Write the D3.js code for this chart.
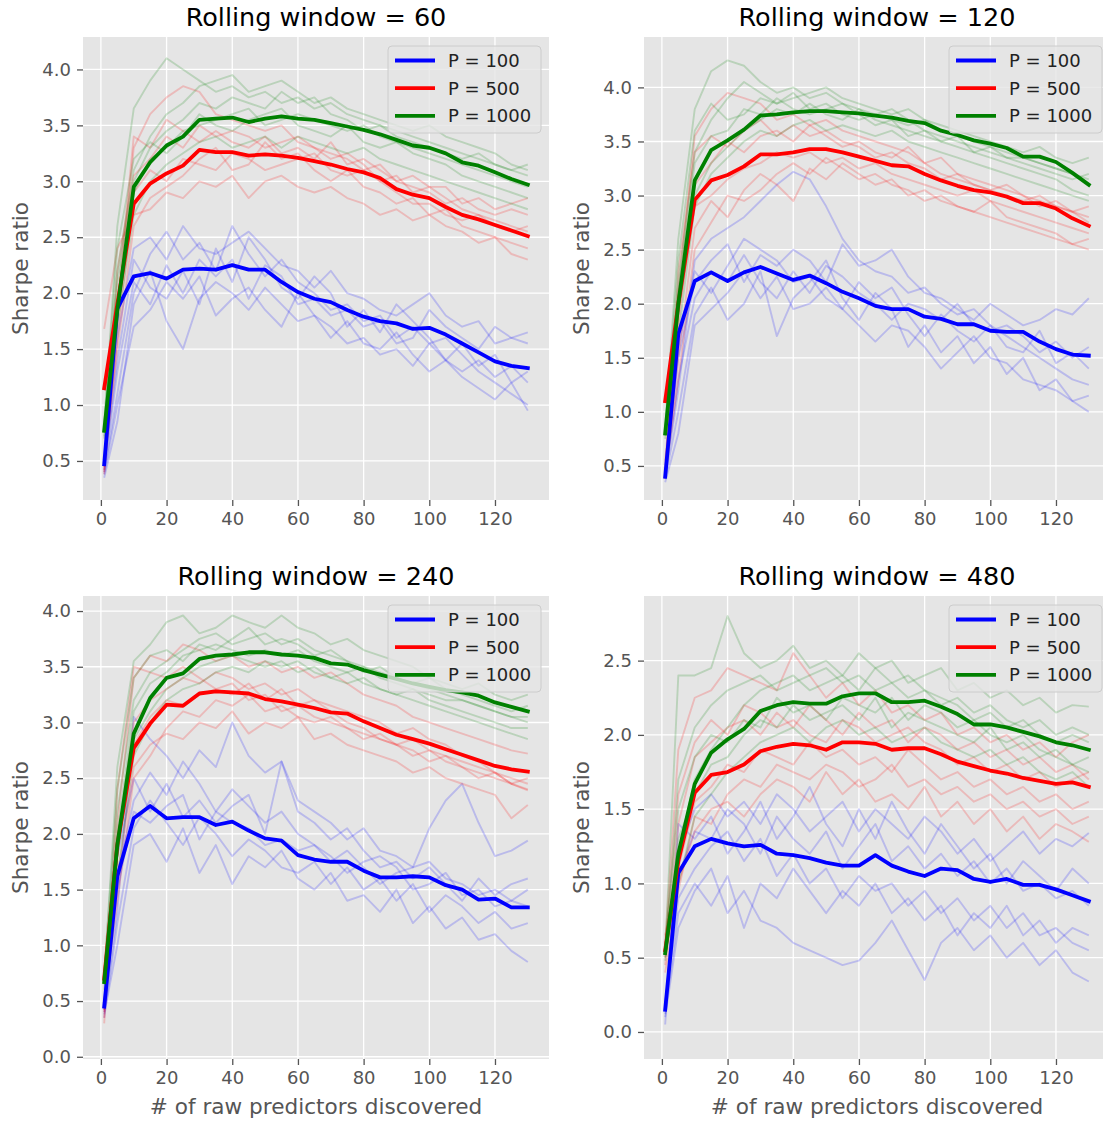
<!DOCTYPE html>
<html>
<head>
<meta charset="utf-8">
<script src="https://cdn.jsdelivr.net/npm/d3@7/dist/d3.min.js"></script>
<style>
  body { margin: 0; background: #fff; }
  svg { display: block; font-family: "DejaVu Sans", sans-serif; }
</style>
</head>
<body>
<svg id="chart" width="1103" height="1121"></svg>
<script>
const predictors = [1, 5, 10, 15, 20, 25, 30, 35, 40, 45, 50, 55, 60, 65, 70, 75, 80, 85, 90, 95, 100, 105, 110, 115, 120, 125, 130];
const windows = [60, 120, 240, 480];
const portfolioSizes = [100, 500, 1000];
const seriesColors = ['#0000ff', '#ff0000', '#008000'];

// mean Sharpe ratio, one array per rolling window and P
const w60P100 = [0.47, 1.86, 2.15, 2.18, 2.13, 2.21, 2.22, 2.21, 2.25, 2.21, 2.21, 2.10, 2.01, 1.95, 1.92, 1.85, 1.79, 1.75, 1.73, 1.68, 1.69, 1.63, 1.55, 1.47, 1.39, 1.35, 1.33];
const w60P500 = [1.15, 1.90, 2.80, 2.98, 3.07, 3.14, 3.28, 3.26, 3.26, 3.23, 3.24, 3.23, 3.21, 3.18, 3.15, 3.11, 3.08, 3.03, 2.93, 2.88, 2.85, 2.77, 2.70, 2.66, 2.61, 2.56, 2.51];
const w60P1000 = [0.77, 1.85, 2.95, 3.17, 3.32, 3.40, 3.55, 3.56, 3.57, 3.53, 3.56, 3.58, 3.56, 3.55, 3.52, 3.49, 3.46, 3.42, 3.37, 3.32, 3.30, 3.25, 3.17, 3.14, 3.08, 3.02, 2.97];

const w120P100 = [0.40, 1.72, 2.21, 2.29, 2.21, 2.29, 2.34, 2.28, 2.22, 2.26, 2.19, 2.11, 2.05, 1.98, 1.95, 1.95, 1.88, 1.86, 1.81, 1.81, 1.75, 1.74, 1.74, 1.65, 1.58, 1.53, 1.52];
const w120P500 = [1.10, 2.00, 2.96, 3.14, 3.19, 3.27, 3.38, 3.38, 3.40, 3.43, 3.43, 3.40, 3.36, 3.32, 3.28, 3.27, 3.20, 3.14, 3.09, 3.05, 3.03, 2.99, 2.93, 2.93, 2.88, 2.79, 2.72];
const w120P1000 = [0.80, 2.00, 3.14, 3.42, 3.51, 3.61, 3.74, 3.75, 3.77, 3.78, 3.78, 3.77, 3.76, 3.74, 3.72, 3.69, 3.67, 3.60, 3.56, 3.51, 3.48, 3.44, 3.36, 3.36, 3.31, 3.21, 3.10];

const w240P100 = [0.45, 1.62, 2.14, 2.25, 2.14, 2.15, 2.15, 2.08, 2.11, 2.03, 1.96, 1.94, 1.81, 1.77, 1.75, 1.75, 1.67, 1.61, 1.61, 1.62, 1.61, 1.54, 1.50, 1.41, 1.42, 1.34, 1.34];
const w240P500 = [0.70, 1.90, 2.77, 2.99, 3.16, 3.15, 3.26, 3.28, 3.27, 3.26, 3.21, 3.19, 3.16, 3.13, 3.09, 3.08, 3.01, 2.95, 2.89, 2.85, 2.81, 2.76, 2.71, 2.66, 2.61, 2.58, 2.56];
const w240P1000 = [0.67, 1.90, 2.90, 3.22, 3.40, 3.44, 3.57, 3.60, 3.61, 3.63, 3.63, 3.61, 3.60, 3.58, 3.53, 3.52, 3.47, 3.43, 3.39, 3.35, 3.32, 3.29, 3.27, 3.24, 3.18, 3.14, 3.10];

const w480P100 = [0.15, 1.07, 1.25, 1.30, 1.27, 1.25, 1.26, 1.20, 1.19, 1.17, 1.14, 1.12, 1.12, 1.19, 1.12, 1.08, 1.05, 1.10, 1.09, 1.03, 1.01, 1.03, 0.99, 0.99, 0.96, 0.92, 0.88];
const w480P500 = [0.55, 1.15, 1.61, 1.73, 1.75, 1.80, 1.89, 1.92, 1.94, 1.93, 1.90, 1.95, 1.95, 1.94, 1.90, 1.91, 1.91, 1.87, 1.82, 1.79, 1.76, 1.74, 1.71, 1.69, 1.67, 1.68, 1.65];
const w480P1000 = [0.53, 1.20, 1.67, 1.88, 1.97, 2.04, 2.16, 2.20, 2.22, 2.21, 2.21, 2.26, 2.28, 2.28, 2.22, 2.22, 2.23, 2.19, 2.14, 2.07, 2.07, 2.05, 2.02, 1.99, 1.95, 1.93, 1.90];

// individual runs (faint lines)
const w60P100Runs = [
  [0.40, 1.10, 2.00, 2.35, 2.55, 2.30, 2.45, 2.20, 2.60, 2.35, 2.15, 2.30, 2.10, 2.00, 1.85, 1.90, 1.75, 1.80, 1.60, 1.70, 1.55, 1.60, 1.45, 1.30, 1.20, 1.10, 1.00],
  [0.45, 1.40, 2.30, 2.05, 1.95, 2.20, 1.90, 2.40, 2.10, 2.50, 2.30, 2.05, 1.95, 2.15, 2.00, 1.70, 1.85, 1.65, 1.90, 1.75, 1.60, 1.40, 1.55, 1.35, 1.45, 1.20, 1.30],
  [0.35, 0.85, 1.90, 2.20, 1.75, 1.50, 1.95, 2.10, 2.00, 1.85, 2.05, 1.90, 1.75, 1.80, 1.60, 1.75, 1.55, 1.50, 1.65, 1.45, 1.30, 1.40, 1.25, 1.15, 1.05, 1.20, 0.95],
  [0.50, 1.60, 2.40, 2.50, 2.30, 2.60, 2.40, 2.35, 2.45, 2.55, 2.40, 2.25, 2.20, 2.05, 2.20, 2.00, 1.95, 1.85, 1.80, 1.90, 2.00, 1.80, 1.70, 1.75, 1.55, 1.60, 1.55],
  [0.38, 1.00, 1.70, 1.85, 2.10, 1.95, 2.15, 1.80, 1.95, 2.05, 1.85, 1.70, 2.00, 1.80, 1.70, 1.55, 1.60, 1.45, 1.50, 1.35, 1.55, 1.40, 1.30, 1.40, 1.25, 1.35, 1.20],
  [0.42, 1.30, 2.10, 1.90, 2.25, 2.00, 2.30, 2.15, 2.30, 1.95, 2.25, 2.15, 1.90, 1.95, 1.80, 1.85, 1.70, 1.75, 1.55, 1.60, 1.85, 1.70, 1.60, 1.50, 1.70, 1.60, 1.65]
];
const w60P500Runs = [
  [0.40, 1.80, 3.30, 3.60, 3.75, 3.85, 3.80, 3.60, 3.55, 3.50, 3.45, 3.50, 3.35, 3.30, 3.20, 3.25, 3.15, 3.00, 3.05, 2.90, 2.95, 2.85, 2.75, 2.70, 2.65, 2.60, 2.55],
  [0.45, 1.50, 2.60, 2.85, 2.95, 3.05, 3.20, 3.30, 3.10, 3.15, 3.35, 3.20, 3.25, 3.10, 3.00, 3.10, 2.95, 2.90, 2.80, 2.85, 2.70, 2.75, 2.60, 2.55, 2.50, 2.45, 2.40],
  [0.50, 2.20, 3.05, 3.20, 3.40, 3.30, 3.50, 3.40, 3.45, 3.40, 3.30, 3.35, 3.40, 3.30, 3.25, 3.20, 3.10, 3.15, 3.00, 2.95, 2.90, 2.80, 2.85, 2.75, 2.70, 2.75, 2.70],
  [1.68, 2.40, 2.70, 2.75, 2.90, 2.85, 3.00, 2.95, 3.05, 2.85, 3.00, 3.05, 2.95, 2.90, 2.95, 2.85, 2.80, 2.70, 2.75, 2.65, 2.70, 2.60, 2.55, 2.45, 2.50, 2.35, 2.30],
  [0.42, 1.60, 2.90, 3.10, 3.00, 3.20, 3.15, 3.10, 3.25, 3.20, 3.10, 3.15, 3.20, 3.25, 3.10, 3.05, 3.10, 3.00, 2.90, 2.80, 2.80, 2.70, 2.65, 2.70, 2.60, 2.55, 2.60],
  [0.38, 1.90, 3.40, 3.30, 3.55, 3.45, 3.35, 3.45, 3.35, 3.30, 3.40, 3.25, 3.30, 3.20, 3.35, 3.15, 3.20, 3.10, 3.00, 3.05, 2.95, 2.95, 2.80, 2.85, 2.75, 2.80, 2.85]
];
const w60P1000Runs = [
  [0.80, 2.60, 3.65, 3.90, 4.10, 4.00, 3.90, 3.80, 3.85, 3.75, 3.80, 3.70, 3.75, 3.65, 3.70, 3.60, 3.55, 3.50, 3.45, 3.40, 3.35, 3.30, 3.25, 3.20, 3.15, 3.10, 3.05],
  [0.75, 2.20, 3.10, 3.40, 3.60, 3.70, 3.85, 3.90, 3.95, 3.80, 3.85, 3.90, 3.80, 3.70, 3.75, 3.65, 3.60, 3.55, 3.50, 3.45, 3.50, 3.40, 3.35, 3.30, 3.25, 3.15, 3.10],
  [0.70, 1.90, 2.90, 3.20, 3.30, 3.45, 3.50, 3.55, 3.60, 3.65, 3.50, 3.55, 3.60, 3.55, 3.50, 3.45, 3.50, 3.40, 3.35, 3.30, 3.25, 3.20, 3.15, 3.10, 3.05, 3.00, 2.95],
  [0.85, 2.40, 3.20, 3.35, 3.25, 3.40, 3.60, 3.50, 3.45, 3.55, 3.60, 3.65, 3.50, 3.45, 3.40, 3.50, 3.35, 3.30, 3.35, 3.25, 3.20, 3.15, 3.05, 3.00, 2.95, 2.90, 2.85],
  [0.72, 1.70, 2.70, 3.00, 3.15, 3.25, 3.35, 3.40, 3.30, 3.35, 3.40, 3.30, 3.40, 3.35, 3.30, 3.25, 3.30, 3.20, 3.15, 3.10, 3.05, 3.00, 2.95, 2.90, 2.85, 2.80, 2.75],
  [0.78, 2.10, 3.00, 3.30, 3.45, 3.55, 3.70, 3.65, 3.75, 3.70, 3.65, 3.80, 3.70, 3.75, 3.60, 3.55, 3.45, 3.50, 3.40, 3.35, 3.30, 3.25, 3.20, 3.25, 3.15, 3.10, 3.15]
];

const w120P100Runs = [
  [0.40, 1.20, 2.40, 2.60, 2.70, 2.80, 2.95, 3.10, 3.22, 3.15, 2.90, 2.60, 2.40, 2.30, 2.25, 2.10, 2.15, 2.00, 1.90, 1.95, 1.80, 1.70, 1.60, 1.50, 1.40, 1.30, 1.25],
  [0.38, 1.00, 1.90, 2.15, 1.85, 2.00, 2.30, 1.70, 2.05, 2.20, 2.40, 2.05, 1.85, 2.10, 1.95, 1.60, 1.80, 1.55, 1.70, 1.45, 1.60, 1.35, 1.50, 1.20, 1.30, 1.10, 1.00],
  [0.45, 1.50, 2.20, 2.40, 2.55, 2.20, 2.45, 2.35, 2.50, 2.40, 2.20, 2.55, 2.35, 2.40, 2.50, 2.25, 2.10, 2.05, 1.95, 1.85, 2.00, 1.90, 1.80, 1.85, 1.95, 1.90, 2.05],
  [0.35, 0.80, 1.80, 1.95, 2.10, 2.30, 2.05, 2.25, 1.95, 2.00, 2.15, 1.95, 1.80, 1.65, 1.80, 1.75, 1.60, 1.40, 1.55, 1.70, 1.50, 1.45, 1.30, 1.25, 1.20, 1.10, 1.15],
  [0.42, 1.30, 2.05, 2.30, 2.20, 2.45, 2.20, 2.05, 2.30, 2.10, 2.35, 2.25, 2.10, 2.00, 1.85, 2.00, 1.95, 1.85, 2.00, 1.80, 1.75, 1.80, 1.70, 1.55, 1.65, 1.50, 1.60],
  [0.40, 1.60, 2.30, 2.10, 2.35, 2.60, 2.50, 2.40, 2.20, 2.25, 2.05, 1.95, 2.20, 2.05, 2.15, 1.90, 1.70, 1.90, 1.75, 1.65, 1.80, 1.60, 1.55, 1.75, 1.45, 1.55, 1.40]
];
const w120P500Runs = [
  [0.45, 2.10, 3.55, 3.80, 3.95, 3.90, 3.85, 3.70, 3.75, 3.65, 3.70, 3.60, 3.55, 3.50, 3.45, 3.40, 3.30, 3.35, 3.20, 3.15, 3.10, 3.05, 3.00, 2.95, 2.90, 2.85, 2.80],
  [0.40, 1.50, 2.70, 2.95, 2.80, 3.05, 3.20, 3.10, 2.95, 3.25, 3.15, 3.30, 3.20, 3.10, 3.15, 3.00, 3.05, 2.95, 2.90, 2.85, 2.80, 2.75, 2.70, 2.65, 2.60, 2.55, 2.50],
  [0.50, 1.80, 3.10, 3.30, 3.50, 3.40, 3.55, 3.60, 3.50, 3.65, 3.55, 3.45, 3.50, 3.40, 3.35, 3.45, 3.30, 3.20, 3.15, 3.10, 3.05, 3.00, 2.95, 3.00, 2.90, 2.85, 2.75],
  [0.42, 1.30, 2.50, 2.75, 3.00, 2.95, 3.05, 3.20, 3.30, 3.20, 3.35, 3.25, 3.15, 3.20, 3.10, 3.05, 2.95, 3.00, 2.90, 2.85, 2.95, 2.80, 2.75, 2.70, 2.65, 2.55, 2.60],
  [0.38, 2.30, 3.40, 3.55, 3.45, 3.60, 3.70, 3.55, 3.65, 3.55, 3.60, 3.50, 3.45, 3.35, 3.40, 3.30, 3.25, 3.15, 3.20, 3.10, 3.05, 3.10, 3.00, 2.90, 2.95, 2.85, 2.90],
  [0.55, 1.90, 2.90, 3.00, 3.15, 3.25, 3.30, 3.40, 3.35, 3.40, 3.30, 3.35, 3.25, 3.30, 3.20, 3.15, 3.10, 3.05, 3.00, 3.05, 2.95, 2.90, 2.85, 2.80, 2.75, 2.70, 2.65]
];
const w120P1000Runs = [
  [0.85, 2.60, 3.80, 4.15, 4.25, 4.20, 4.05, 3.95, 4.00, 3.90, 3.95, 3.85, 3.80, 3.75, 3.80, 3.70, 3.60, 3.55, 3.50, 3.45, 3.40, 3.35, 3.35, 3.30, 3.25, 3.20, 3.15],
  [0.80, 2.20, 3.40, 3.70, 3.90, 4.05, 3.95, 3.85, 3.90, 3.95, 4.00, 3.90, 3.85, 3.80, 3.75, 3.80, 3.70, 3.65, 3.60, 3.55, 3.50, 3.45, 3.40, 3.45, 3.35, 3.30, 3.35],
  [0.75, 1.90, 3.00, 3.30, 3.45, 3.60, 3.70, 3.80, 3.75, 3.85, 3.75, 3.70, 3.80, 3.70, 3.65, 3.60, 3.55, 3.50, 3.45, 3.40, 3.35, 3.30, 3.25, 3.20, 3.15, 3.05, 3.00],
  [0.82, 2.40, 3.60, 3.85, 3.70, 3.75, 3.90, 3.85, 3.95, 3.80, 3.85, 3.75, 3.70, 3.75, 3.70, 3.65, 3.70, 3.60, 3.55, 3.50, 3.45, 3.40, 3.35, 3.30, 3.25, 3.20, 3.10],
  [0.78, 1.70, 2.90, 3.20, 3.35, 3.50, 3.60, 3.55, 3.65, 3.70, 3.60, 3.65, 3.60, 3.55, 3.60, 3.50, 3.45, 3.40, 3.35, 3.30, 3.25, 3.20, 3.15, 3.10, 3.05, 3.00, 2.95],
  [0.80, 2.10, 3.30, 3.55, 3.60, 3.80, 3.75, 3.90, 3.80, 3.75, 3.80, 3.85, 3.75, 3.65, 3.70, 3.55, 3.60, 3.50, 3.55, 3.40, 3.45, 3.35, 3.30, 3.25, 3.20, 3.15, 3.20]
];

const w240P100Runs = [
  [0.40, 1.30, 3.05, 2.85, 2.70, 2.50, 2.75, 2.60, 3.00, 2.70, 2.55, 2.65, 2.30, 2.20, 2.10, 1.95, 2.05, 1.85, 1.80, 1.70, 1.75, 1.60, 1.55, 1.45, 1.50, 1.40, 1.35],
  [0.45, 1.60, 2.30, 2.55, 2.35, 2.65, 2.45, 2.20, 2.40, 2.25, 2.10, 2.20, 2.00, 1.90, 1.75, 1.85, 1.70, 1.55, 1.65, 1.70, 2.05, 2.30, 2.45, 2.10, 1.80, 1.85, 1.94],
  [0.38, 1.00, 1.90, 2.00, 1.75, 2.05, 1.65, 1.90, 1.55, 1.80, 1.70, 1.85, 1.60, 1.50, 1.65, 1.40, 1.45, 1.30, 1.50, 1.20, 1.35, 1.15, 1.25, 1.05, 1.10, 0.95, 0.85],
  [0.50, 1.80, 2.50, 2.20, 2.45, 2.15, 2.30, 2.10, 2.25, 2.35, 2.00, 2.65, 2.20, 2.10, 1.95, 2.05, 1.85, 1.70, 1.75, 1.60, 1.70, 1.55, 1.40, 1.60, 1.45, 1.55, 1.60],
  [0.35, 1.20, 2.05, 2.30, 2.10, 1.90, 2.15, 2.00, 1.80, 1.95, 1.85, 1.70, 1.65, 1.75, 1.55, 1.70, 1.50, 1.60, 1.40, 1.55, 1.30, 1.45, 1.35, 1.20, 1.30, 1.15, 1.20],
  [0.42, 1.50, 2.20, 2.10, 2.25, 2.35, 1.95, 2.20, 2.10, 2.05, 1.90, 1.95, 1.85, 1.90, 1.80, 1.65, 1.75, 1.80, 1.70, 1.50, 1.55, 1.65, 1.45, 1.50, 1.35, 1.40, 1.50]
];
const w240P500Runs = [
  [0.30, 2.10, 3.40, 3.60, 3.55, 3.70, 3.65, 3.55, 3.60, 3.50, 3.55, 3.45, 3.50, 3.40, 3.45, 3.35, 3.25, 3.20, 3.15, 3.05, 3.00, 2.95, 2.90, 2.85, 2.80, 2.75, 2.72],
  [0.40, 1.60, 2.60, 2.80, 2.90, 2.85, 3.00, 2.95, 3.10, 2.90, 3.00, 2.95, 3.05, 2.85, 2.90, 2.80, 2.75, 2.70, 2.65, 2.55, 2.60, 2.50, 2.45, 2.40, 2.35, 2.14, 2.26],
  [0.45, 1.90, 3.00, 3.20, 3.30, 3.40, 3.35, 3.45, 3.40, 3.30, 3.35, 3.25, 3.30, 3.20, 3.15, 3.10, 3.05, 3.00, 2.90, 2.95, 2.85, 2.80, 2.70, 2.65, 2.55, 2.45, 2.39],
  [0.35, 2.40, 3.50, 3.45, 3.40, 3.50, 3.40, 3.30, 3.25, 3.35, 3.20, 3.30, 3.15, 3.20, 3.10, 3.00, 2.95, 2.85, 2.80, 2.75, 2.65, 2.70, 2.60, 2.55, 2.50, 2.45, 2.40],
  [0.50, 1.40, 2.50, 2.70, 2.95, 3.10, 3.05, 3.20, 3.15, 3.25, 3.10, 3.15, 3.05, 3.00, 3.05, 2.95, 2.90, 2.85, 2.80, 2.85, 2.75, 2.70, 2.65, 2.60, 2.55, 2.50, 2.45],
  [0.42, 1.80, 2.80, 3.05, 3.20, 3.15, 3.25, 3.30, 3.35, 3.20, 3.25, 3.10, 3.15, 3.05, 3.00, 2.95, 2.85, 2.90, 2.80, 2.70, 2.75, 2.65, 2.60, 2.50, 2.55, 2.45, 2.50]
];
const w240P1000Runs = [
  [0.70, 2.60, 3.55, 3.70, 3.90, 3.96, 3.80, 3.85, 3.96, 3.90, 3.85, 3.96, 3.85, 3.80, 3.70, 3.75, 3.65, 3.60, 3.55, 3.50, 3.40, 3.35, 3.30, 3.35, 3.25, 3.20, 3.25],
  [0.65, 2.20, 3.20, 3.45, 3.55, 3.65, 3.75, 3.80, 3.70, 3.75, 3.80, 3.70, 3.75, 3.65, 3.60, 3.55, 3.50, 3.45, 3.40, 3.35, 3.30, 3.25, 3.20, 3.15, 3.10, 3.05, 3.00],
  [0.60, 1.80, 2.85, 3.10, 3.30, 3.40, 3.50, 3.55, 3.60, 3.55, 3.50, 3.55, 3.45, 3.50, 3.40, 3.35, 3.40, 3.30, 3.25, 3.20, 3.15, 3.10, 3.05, 3.00, 2.95, 2.90, 2.85],
  [0.75, 2.40, 3.40, 3.60, 3.65, 3.55, 3.70, 3.65, 3.75, 3.85, 3.70, 3.75, 3.70, 3.60, 3.65, 3.55, 3.45, 3.50, 3.40, 3.35, 3.40, 3.30, 3.25, 3.20, 3.15, 3.10, 3.15],
  [0.68, 1.60, 2.70, 3.00, 3.20, 3.30, 3.35, 3.45, 3.50, 3.45, 3.55, 3.50, 3.55, 3.45, 3.40, 3.45, 3.35, 3.30, 3.25, 3.30, 3.20, 3.15, 3.10, 3.05, 3.00, 2.95, 2.95],
  [0.72, 2.00, 3.10, 3.35, 3.45, 3.60, 3.65, 3.70, 3.65, 3.60, 3.65, 3.60, 3.65, 3.55, 3.50, 3.45, 3.50, 3.40, 3.35, 3.30, 3.25, 3.20, 3.20, 3.15, 3.10, 3.05, 3.05]
];

const w480P100Runs = [
  [0.10, 0.70, 0.95, 1.10, 0.80, 0.95, 0.75, 0.70, 0.60, 0.55, 0.50, 0.45, 0.48, 0.60, 0.75, 0.55, 0.35, 0.60, 0.70, 0.55, 0.65, 0.50, 0.60, 0.45, 0.55, 0.40, 0.34],
  [0.15, 1.20, 1.50, 1.60, 1.45, 1.55, 1.40, 1.60, 1.50, 1.35, 1.45, 1.55, 1.35, 1.50, 1.40, 1.30, 1.45, 1.35, 1.20, 1.30, 1.15, 1.25, 1.35, 1.20, 1.30, 1.25, 1.34],
  [0.20, 0.90, 1.10, 1.25, 1.35, 1.15, 1.30, 1.05, 1.20, 1.00, 1.10, 0.90, 1.05, 0.95, 1.00, 0.85, 0.95, 0.80, 0.90, 0.75, 0.85, 0.70, 0.80, 0.65, 0.70, 0.60, 0.55],
  [0.05, 1.40, 1.30, 1.45, 1.20, 1.35, 1.55, 1.30, 1.45, 1.65, 1.40, 1.25, 1.50, 1.30, 1.55, 1.35, 1.20, 1.40, 1.25, 1.10, 1.20, 1.00, 1.15, 1.05, 0.95, 1.10, 1.00],
  [0.12, 0.80, 1.00, 0.85, 1.05, 0.70, 1.00, 0.90, 1.10, 0.95, 0.80, 0.95, 0.85, 1.00, 0.80, 0.90, 0.75, 0.85, 0.65, 0.80, 0.70, 0.85, 0.65, 0.75, 0.60, 0.70, 0.65],
  [0.18, 1.05, 1.35, 1.30, 1.50, 1.40, 1.20, 1.45, 1.30, 1.20, 1.35, 1.10, 1.25, 1.40, 1.15, 1.25, 1.10, 1.20, 1.05, 1.15, 1.00, 1.10, 0.95, 1.00, 0.90, 0.95, 0.85]
];
const w480P500Runs = [
  [0.60, 1.90, 2.25, 2.30, 2.45, 2.40, 2.35, 2.30, 2.55, 2.40, 2.25, 2.35, 2.20, 2.30, 2.15, 2.20, 2.10, 2.15, 2.00, 2.05, 1.95, 2.00, 1.90, 1.95, 1.85, 1.95, 2.00],
  [0.50, 1.00, 1.35, 1.50, 1.55, 1.45, 1.60, 1.70, 1.65, 1.55, 1.75, 1.60, 1.70, 1.55, 1.60, 1.50, 1.65, 1.45, 1.55, 1.40, 1.50, 1.35, 1.45, 1.30, 1.40, 1.35, 1.28],
  [0.45, 1.40, 1.85, 1.95, 2.05, 2.10, 2.00, 2.15, 2.05, 2.20, 2.10, 2.00, 2.15, 2.05, 2.10, 1.95, 2.05, 2.00, 1.90, 1.95, 1.85, 1.90, 1.80, 1.85, 1.75, 1.80, 1.70],
  [0.65, 1.10, 1.55, 1.65, 1.80, 1.75, 1.90, 1.85, 1.80, 1.95, 1.85, 1.90, 1.80, 1.85, 1.75, 1.90, 1.80, 1.70, 1.75, 1.65, 1.70, 1.60, 1.65, 1.55, 1.60, 1.50, 1.55],
  [0.55, 1.60, 1.95, 2.10, 2.00, 2.20, 2.15, 2.05, 2.10, 2.00, 1.95, 2.10, 2.05, 1.95, 2.00, 2.05, 1.95, 1.90, 1.80, 1.85, 1.75, 1.80, 1.70, 1.75, 1.65, 1.70, 1.75],
  [0.40, 0.95, 1.45, 1.40, 1.60, 1.70, 1.65, 1.80, 1.75, 1.70, 1.80, 1.75, 1.65, 1.70, 1.80, 1.65, 1.70, 1.60, 1.65, 1.55, 1.60, 1.50, 1.55, 1.45, 1.50, 1.40, 1.45]
];
const w480P1000Runs = [
  [0.55, 2.40, 2.40, 2.45, 2.80, 2.55, 2.45, 2.50, 2.60, 2.45, 2.50, 2.40, 2.55, 2.45, 2.50, 2.35, 2.40, 2.45, 2.30, 2.35, 2.25, 2.30, 2.20, 2.25, 2.15, 2.20, 2.19],
  [0.50, 1.20, 1.70, 1.90, 2.05, 2.20, 2.30, 2.35, 2.40, 2.30, 2.35, 2.40, 2.30, 2.45, 2.35, 2.40, 2.30, 2.25, 2.20, 2.10, 2.15, 2.05, 2.10, 2.00, 1.95, 2.00, 1.95],
  [0.58, 1.50, 1.85, 2.00, 1.95, 2.10, 2.05, 2.25, 2.15, 2.20, 2.10, 2.25, 2.20, 2.15, 2.25, 2.10, 2.20, 2.15, 2.05, 2.10, 2.00, 1.95, 2.00, 1.90, 1.85, 1.80, 1.85],
  [0.52, 1.00, 1.45, 1.60, 1.75, 1.85, 1.95, 2.00, 2.05, 1.95, 2.05, 2.10, 2.00, 2.05, 1.95, 2.00, 2.05, 1.95, 1.90, 1.85, 1.90, 1.80, 1.85, 1.75, 1.70, 1.75, 1.65],
  [0.55, 1.70, 2.05, 2.20, 2.30, 2.35, 2.40, 2.30, 2.35, 2.40, 2.45, 2.35, 2.40, 2.30, 2.35, 2.25, 2.30, 2.20, 2.25, 2.15, 2.20, 2.10, 2.05, 2.10, 2.00, 2.05, 2.00],
  [0.48, 1.30, 1.60, 1.80, 1.85, 2.00, 2.10, 2.05, 2.20, 2.10, 2.15, 2.20, 2.10, 2.25, 2.05, 2.15, 2.10, 2.05, 2.00, 1.95, 2.05, 1.90, 1.95, 1.85, 1.90, 1.80, 1.75]
];

const panels = [
  { window: windows[0], means: [w60P100, w60P500, w60P1000], runs: [w60P100Runs, w60P500Runs, w60P1000Runs] },
  { window: windows[1], means: [w120P100, w120P500, w120P1000], runs: [w120P100Runs, w120P500Runs, w120P1000Runs] },
  { window: windows[2], means: [w240P100, w240P500, w240P1000], runs: [w240P100Runs, w240P500Runs, w240P1000Runs] },
  { window: windows[3], means: [w480P100, w480P500, w480P1000], runs: [w480P100Runs, w480P500Runs, w480P1000Runs] }
];

// axes placement, matplotlib 2x2 grid
const plotW = 466;
const plotH = 463;
const frames = [
  { left: 83, top: 37, yDomain: [0.151, 4.29], xlabel: false },
  { left: 644, top: 37, yDomain: [0.185, 4.466], xlabel: false },
  { left: 83, top: 596, yDomain: [-0.02, 4.135], xlabel: true },
  { left: 644, top: 596, yDomain: [-0.182, 2.935], xlabel: true }
];

const svg = d3.select('#chart');
const x = d3.scaleLinear().domain([-5.45, 136.45]).range([0, plotW]);

panels.forEach((panel, i) => {
  const f = frames[i];
  const y = d3.scaleLinear().domain(f.yDomain).range([plotH, 0]);
  const g = svg.append('g').attr('transform', `translate(${f.left},${f.top})`);

  g.append('clipPath')
    .attr('id', 'clip' + i)
    .append('rect')
    .attr('width', plotW)
    .attr('height', plotH);

  g.append('rect')
    .attr('width', plotW)
    .attr('height', plotH)
    .attr('fill', '#e5e5e5');

  const xTicks = x.ticks(7);
  const yTicks = y.ticks(8);

  g.append('g')
    .selectAll('line')
    .data(xTicks)
    .join('line')
    .attr('x1', d => x(d))
    .attr('x2', d => x(d))
    .attr('y1', 0)
    .attr('y2', plotH)
    .attr('stroke', '#fff')
    .attr('stroke-width', 1.3);
  g.append('g')
    .selectAll('line')
    .data(yTicks)
    .join('line')
    .attr('x1', 0)
    .attr('x2', plotW)
    .attr('y1', d => y(d))
    .attr('y2', d => y(d))
    .attr('stroke', '#fff')
    .attr('stroke-width', 1.3);

  const xAxis = g.append('g')
    .attr('transform', `translate(0,${plotH})`)
    .call(d3.axisBottom(x).ticks(7).tickFormat(d3.format('d')).tickSize(6).tickPadding(6));
  const yAxis = g.append('g')
    .call(d3.axisLeft(y).ticks(8).tickFormat(d3.format('.1f')).tickSize(6).tickPadding(6));
  [xAxis, yAxis].forEach(ax => {
    ax.select('.domain').remove();
    ax.attr('color', '#555555')
      .attr('font-family', '"DejaVu Sans", sans-serif')
      .attr('font-size', 18);
    ax.selectAll('line').attr('stroke-width', 1.3);
  });

  const line = d3.line()
    .x((d, j) => x(predictors[j]))
    .y(d => y(d));

  const plot = g.append('g').attr('clip-path', `url(#clip${i})`);

  panel.runs.forEach((runs, k) => {
    plot.append('g')
      .selectAll('path')
      .data(runs)
      .join('path')
      .attr('d', line)
      .attr('fill', 'none')
      .attr('stroke', seriesColors[k])
      .attr('stroke-opacity', 0.19)
      .attr('stroke-width', 1.9)
      .attr('stroke-linejoin', 'round');
  });

  plot.selectAll('.mean')
    .data(panel.means)
    .join('path')
    .attr('class', 'mean')
    .attr('d', line)
    .attr('fill', 'none')
    .attr('stroke', (d, k) => seriesColors[k])
    .attr('stroke-width', 3.8)
    .attr('stroke-linejoin', 'round')
    .attr('stroke-linecap', 'square');

  g.append('text')
    .attr('x', plotW / 2)
    .attr('y', -11)
    .attr('text-anchor', 'middle')
    .attr('font-size', 25.5)
    .attr('fill', '#000')
    .text(`Rolling window = ${panel.window}`);

  g.append('text')
    .attr('transform', `translate(${(i % 2 ? 589 : 28) - f.left},${plotH / 2}) rotate(-90)`)
    .attr('text-anchor', 'middle')
    .attr('font-size', 21.6)
    .attr('fill', '#555555')
    .text('Sharpe ratio');

  if (f.xlabel) {
    g.append('text')
      .attr('x', plotW / 2)
      .attr('y', 1114 - f.top)
      .attr('text-anchor', 'middle')
      .attr('font-size', 21.6)
      .attr('fill', '#555555')
      .text('# of raw predictors discovered');
  }

  // legend
  const lg = g.append('g').attr('transform', `translate(${plotW - 161},9)`);
  lg.append('rect')
    .attr('width', 153)
    .attr('height', 87)
    .attr('rx', 4)
    .attr('fill', '#e5e5e5')
    .attr('fill-opacity', 0.8)
    .attr('stroke', '#cccccc')
    .attr('stroke-width', 1);
  portfolioSizes.forEach((p, k) => {
    const cy = 14.5 + k * 27.7;
    lg.append('line')
      .attr('x1', 7)
      .attr('x2', 47)
      .attr('y1', cy)
      .attr('y2', cy)
      .attr('stroke', seriesColors[k])
      .attr('stroke-width', 3.8);
    lg.append('text')
      .attr('x', 60)
      .attr('y', cy + 6.5)
      .attr('font-size', 18)
      .attr('fill', '#222')
      .text(`P = ${p}`);
  });
});
</script>
</body>
</html>
